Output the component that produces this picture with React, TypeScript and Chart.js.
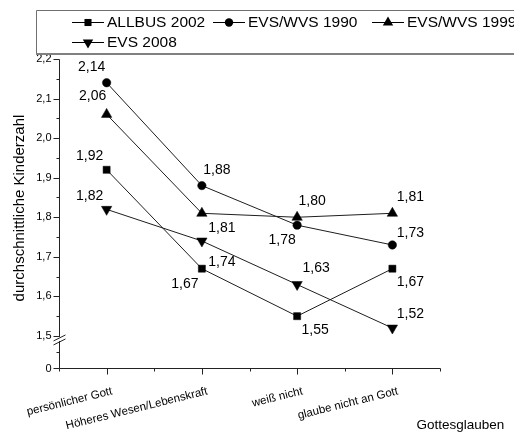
import { useEffect, useRef } from 'react';
import { Chart, registerables } from 'chart.js';

Chart.register(...registerables);

// Categories of belief in God (x axis)
const categories = ['persönlicher Gott', 'Höheres Wesen/Lebenskraft', 'weiß nicht', 'glaube nicht an Gott'];

// Average number of children per survey
const allbus2002 = [1.92, 1.67, 1.55, 1.67];
const evsWvs1990 = [2.14, 1.88, 1.78, 1.73];
const evsWvs1999 = [2.06, 1.81, 1.8, 1.81];
const evs2008 = [1.82, 1.74, 1.63, 1.52];

const seriesNames = ['ALLBUS 2002', 'EVS/WVS 1990', 'EVS/WVS 1999', 'EVS 2008'];

// Upper (broken) part of the y axis
const yTickValues = [1.5, 1.6, 1.7, 1.8, 1.9, 2.0, 2.1, 2.2];
const yBottomLabel = '0';
const xTitle = 'Gottesglauben';
const yTitle = 'durchschnittliche Kinderzahl';

const Y_MAX = 2.2;
const Y_MIN = 1.419; // bottom of the axis, where the "0" sits below the break

const FONT = "'Liberation Sans', Arial, Helvetica, sans-serif";

type Marker = { style: 'rect' | 'circle' | 'triangle'; rotation: number; radius: number };
const markers: Marker[] = [
  { style: 'rect', rotation: 0, radius: 5 },
  { style: 'circle', rotation: 0, radius: 4.2 },
  { style: 'triangle', rotation: 0, radius: 6 },
  { style: 'triangle', rotation: 180, radius: 6 },
];

// where each value label sits relative to its point (dx, dy in px)
const labelPlacement: [number, number][][] = [
  [[-17, -14], [-17, 15], [18, 14], [18, 13]],
  [[-15, -16], [15, -15], [-15, 15], [18, -12]],
  [[-14, -18], [20, 15], [15, -16], [18, -16]],
  [[-17, -13], [20, 21], [19, -16], [18, -14]],
];

const fmt = (v: number, digits: number) => v.toFixed(digits).replace('.', ',');

function drawMarker(ctx: CanvasRenderingContext2D, m: Marker, x: number, y: number) {
  ctx.save();
  ctx.fillStyle = '#000';
  ctx.beginPath();
  if (m.style === 'rect') {
    const s = Math.SQRT1_2 * m.radius;
    ctx.rect(x - s, y - s, 2 * s, 2 * s);
  } else if (m.style === 'circle') {
    ctx.arc(x, y, m.radius, 0, Math.PI * 2);
  } else {
    let rad = (m.rotation * Math.PI) / 180;
    ctx.moveTo(x + Math.sin(rad) * m.radius, y - Math.cos(rad) * m.radius);
    rad += (2 * Math.PI) / 3;
    ctx.lineTo(x + Math.sin(rad) * m.radius, y - Math.cos(rad) * m.radius);
    rad += (2 * Math.PI) / 3;
    ctx.lineTo(x + Math.sin(rad) * m.radius, y - Math.cos(rad) * m.radius);
    ctx.closePath();
  }
  ctx.fill();
  ctx.restore();
}

const decorations = {
  id: 'decorations',
  afterDatasetsDraw(chart: any) {
    const ctx: CanvasRenderingContext2D = chart.ctx;
    const xs = chart.scales.x;
    const ys = chart.scales.y;
    const left = Math.round(xs.getPixelForValue(0.5)) + 0.5;
    const right = Math.round(xs.getPixelForValue(4.5)) + 0.5;
    const top = Math.round(ys.getPixelForValue(Y_MAX)) + 0.5;
    const bottom = Math.round(ys.getPixelForValue(Y_MIN)) + 0.5;
    const y15 = ys.getPixelForValue(1.5);

    ctx.save();
    ctx.strokeStyle = '#222';
    ctx.lineWidth = 1;

    // y axis line
    ctx.beginPath();
    ctx.moveTo(left, top);
    ctx.lineTo(left, bottom);
    ctx.stroke();

    // y major ticks and minor ticks
    ctx.beginPath();
    yTickValues.forEach((v) => {
      const py = Math.round(ys.getPixelForValue(v)) + 0.5;
      ctx.moveTo(left - 6, py);
      ctx.lineTo(left, py);
    });
    for (let i = 0; i < yTickValues.length - 1; i++) {
      const py = Math.round(ys.getPixelForValue(yTickValues[i] + 0.05)) + 0.5;
      ctx.moveTo(left - 3, py);
      ctx.lineTo(left, py);
    }
    const midLow = Math.round((y15 + bottom) / 2) + 0.5;
    ctx.moveTo(left - 3, midLow);
    ctx.lineTo(left, midLow);
    ctx.moveTo(left - 6, bottom);
    ctx.lineTo(left, bottom);
    ctx.stroke();

    // axis break marks
    const by = y15 + 4;
    ctx.fillStyle = '#fff';
    ctx.fillRect(left - 2, by - 3, 4, 4);
    ctx.beginPath();
    ctx.moveTo(left - 6, by + 1);
    ctx.lineTo(left + 6, by - 5);
    ctx.moveTo(left - 6, by + 5);
    ctx.lineTo(left + 6, by - 1);
    ctx.stroke();

    // y tick labels
    ctx.fillStyle = '#000';
    ctx.font = `11px ${FONT}`;
    ctx.textAlign = 'right';
    ctx.textBaseline = 'middle';
    yTickValues.forEach((v) => {
      ctx.fillText(fmt(v, 1), left - 8, ys.getPixelForValue(v));
    });
    ctx.fillText(yBottomLabel, left - 8, bottom);

    // x axis line and ticks
    ctx.beginPath();
    ctx.moveTo(left, bottom);
    ctx.lineTo(right, bottom);
    for (let i = 0; i < categories.length; i++) {
      const px = Math.round(xs.getPixelForValue(i + 1)) + 0.5;
      ctx.moveTo(px, bottom);
      ctx.lineTo(px, bottom + 6);
    }
    for (let i = 0; i <= categories.length; i++) {
      const px = Math.round(xs.getPixelForValue(i + 0.5)) + 0.5;
      ctx.moveTo(px, bottom);
      ctx.lineTo(px, bottom + 3);
    }
    ctx.stroke();

    // rotated category labels
    ctx.font = `11.5px ${FONT}`;
    ctx.textAlign = 'right';
    ctx.textBaseline = 'top';
    categories.forEach((c, i) => {
      const px = xs.getPixelForValue(i + 1);
      ctx.save();
      ctx.translate(px + 4, bottom + 17);
      ctx.rotate((-14 * Math.PI) / 180);
      ctx.fillText(c, 0, 0);
      ctx.restore();
    });

    // axis titles
    ctx.font = `13.5px ${FONT}`;
    ctx.textAlign = 'left';
    ctx.textBaseline = 'middle';
    ctx.fillText(xTitle, right - 24, bottom + 57);
    ctx.save();
    ctx.font = `15px ${FONT}`;
    ctx.translate(20, 208);
    ctx.rotate(-Math.PI / 2);
    ctx.textAlign = 'center';
    ctx.fillText(yTitle, 0, 0);
    ctx.restore();

    // value labels
    ctx.font = `14px ${FONT}`;
    ctx.textAlign = 'center';
    ctx.textBaseline = 'middle';
    chart.data.datasets.forEach((ds: any, di: number) => {
      const meta = chart.getDatasetMeta(di);
      meta.data.forEach((pt: any, i: number) => {
        const [dx, dy] = labelPlacement[di][i];
        ctx.fillText(fmt(ds.data[i].y, 2), pt.x + dx, pt.y + dy);
      });
    });

    // legend box
    ctx.strokeStyle = '#707070';
    ctx.beginPath();
    ctx.moveTo(520, 10.5);
    ctx.lineTo(36.5, 10.5);
    ctx.lineTo(36.5, 54);
    ctx.stroke();
    ctx.lineWidth = 2;
    ctx.strokeStyle = '#808080';
    ctx.beginPath();
    ctx.moveTo(36, 54);
    ctx.lineTo(520, 54);
    ctx.stroke();
    ctx.lineWidth = 1;

    const legendSlots = [
      [72, 22],
      [213, 22],
      [372, 22],
      [72, 42],
    ];
    ctx.font = `15.5px ${FONT}`;
    ctx.textAlign = 'left';
    ctx.textBaseline = 'middle';
    ctx.strokeStyle = '#000';
    seriesNames.forEach((name, i) => {
      const [lx, ly] = legendSlots[i];
      ctx.beginPath();
      ctx.moveTo(lx, ly + 0.5);
      ctx.lineTo(lx + 32, ly + 0.5);
      ctx.stroke();
      drawMarker(ctx, markers[i], lx + 16, ly + 0.5);
      ctx.fillStyle = '#000';
      ctx.fillText(name, lx + 35, ly + 1);
    });

    ctx.restore();
  },
};

export default function App() {
  const ref = useRef<HTMLCanvasElement>(null);

  useEffect(() => {
    const all = [allbus2002, evsWvs1990, evsWvs1999, evs2008];
    const chart = new Chart(ref.current as HTMLCanvasElement, {
      type: 'line',
      data: {
        datasets: all.map((values, i) => ({
          label: seriesNames[i],
          data: values.map((v, j) => ({ x: j + 1, y: v })),
          borderColor: '#1e1e1e',
          borderWidth: 1,
          backgroundColor: '#000',
          pointStyle: markers[i].style,
          pointRotation: markers[i].rotation,
          pointRadius: markers[i].radius,
          pointBackgroundColor: '#000',
          pointBorderColor: '#000',
          pointBorderWidth: 0.5,
          tension: 0,
          clip: false as any,
        })),
      },
      options: {
        responsive: false,
        animation: false,
        events: [],
        layout: { padding: { left: 59, right: 74, top: 59, bottom: 67 } },
        scales: {
          x: { type: 'linear', min: 0.5, max: 4.5, display: false },
          y: { type: 'linear', min: Y_MIN, max: Y_MAX, display: false },
        },
        plugins: { legend: { display: false }, tooltip: { enabled: false } },
      },
      plugins: [decorations],
    });
    return () => chart.destroy();
  }, []);

  return (
    <div style={{ position: 'fixed', left: 0, top: 0, width: 514, height: 435, background: '#fff' }}>
      <canvas ref={ref} width={514} height={435} style={{ display: 'block' }} />
    </div>
  );
}
